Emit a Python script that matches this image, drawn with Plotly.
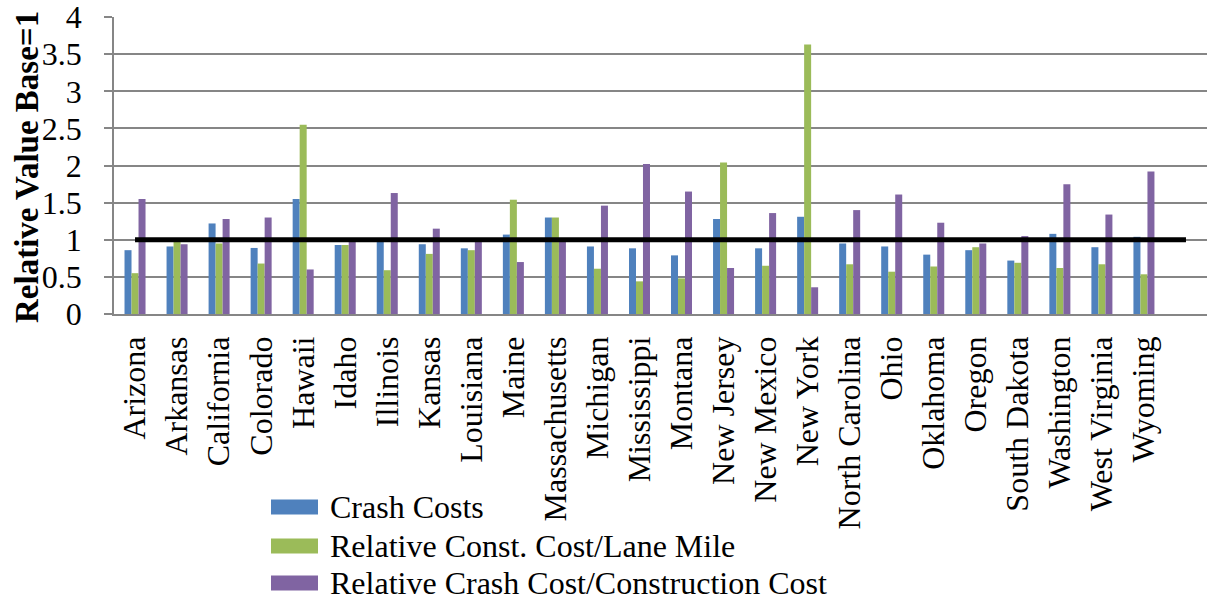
import plotly.graph_objects as go

states = ["Arizona", "Arkansas", "California", "Colorado", "Hawaii", "Idaho", "Illinois",
          "Kansas", "Louisiana", "Maine", "Massachusetts", "Michigan", "Mississippi",
          "Montana", "New Jersey", "New Mexico", "New York", "North Carolina", "Ohio",
          "Oklahoma", "Oregon", "South Dakota", "Washington", "West Virginia", "Wyoming"]
extra_category = " "

crash_costs = [0.86, 0.91, 1.22, 0.89, 1.55, 0.93, 0.98, 0.94, 0.885, 1.07, 1.30, 0.91, 0.885,
               0.79, 1.28, 0.885, 1.31, 0.95, 0.91, 0.80, 0.86, 0.72, 1.08, 0.90, 1.04]
const_cost = [0.55, 0.98, 0.95, 0.68, 2.55, 0.93, 0.59, 0.81, 0.86, 1.54, 1.30, 0.61, 0.44,
              0.48, 2.04, 0.65, 3.63, 0.67, 0.57, 0.64, 0.90, 0.69, 0.62, 0.67, 0.535]
crash_per_const = [1.55, 0.94, 1.28, 1.30, 0.60, 0.98, 1.63, 1.15, 0.98, 0.70, 0.98, 1.46, 2.02,
                   1.65, 0.62, 1.36, 0.36, 1.40, 1.61, 1.23, 0.95, 1.05, 1.75, 1.34, 1.92]
base_value = 1

series_names = ["Crash Costs", "Relative Const. Cost/Lane Mile",
                "Relative Crash Cost/Construction Cost"]
series_colors = ["#4F81BD", "#9BBB59", "#8064A2"]
y_ticks = [0, 0.5, 1, 1.5, 2, 2.5, 3, 3.5, 4]
y_tick_text = ["0", "0.5", "1", "1.5", "2", "2.5", "3", "3.5", "4"]
y_title = "Relative Value Base=1"

FONT = "Liberation Serif, Times New Roman, DejaVu Serif, serif"
FS = 32
W, H = 1212, 603
ML, MR, MT, MB = 114, 5, 17, 289

all_cats = states + [extra_category]

fig = go.Figure()
for name, vals, col in zip(series_names, [crash_costs, const_cost, crash_per_const], series_colors):
    fig.add_trace(go.Bar(x=states, y=vals, name=name, marker_color=col,
                         marker_line_width=0, showlegend=False))

fig.add_trace(go.Scatter(x=all_cats, y=[base_value] * len(all_cats), mode="lines",
                         line=dict(color="black", width=5), showlegend=False,
                         hoverinfo="skip"))

pw = W - ML - MR
ph = H - MT - MB
def px_to_paper_x(px):
    return (px - ML) / pw
def px_to_paper_y(py):
    return (H - MB - py) / ph

# legend drawn manually (wide colour boxes like the original)
legend_rows = [507, 546, 583]
for name, col, yc in zip(series_names, series_colors, legend_rows):
    fig.add_shape(type="rect", xref="paper", yref="paper",
                  x0=px_to_paper_x(271), x1=px_to_paper_x(318),
                  y0=px_to_paper_y(yc + 7.5), y1=px_to_paper_y(yc - 7.5),
                  fillcolor=col, line_width=0)
    fig.add_annotation(xref="paper", yref="paper", x=px_to_paper_x(328), y=px_to_paper_y(yc),
                       text=name, showarrow=False, xanchor="left", yanchor="middle",
                       font=dict(family=FONT, size=FS, color="black"))

# y-axis title
fig.add_annotation(xref="paper", yref="paper", x=px_to_paper_x(27), y=px_to_paper_y(167),
                   text="<b>" + y_title + "</b>", textangle=-90, showarrow=False,
                   xanchor="center", yanchor="middle",
                   font=dict(family=FONT, size=33, color="black"))

fig.update_layout(
    width=W, height=H,
    margin=dict(l=ML, r=MR, t=MT, b=MB, autoexpand=False),
    paper_bgcolor="white", plot_bgcolor="white",
    barmode="group", bargap=0.5, bargroupgap=0,
    font=dict(family=FONT, size=FS, color="black"),
    showlegend=False,
)
fig.update_xaxes(
    type="category", categoryorder="array", categoryarray=all_cats,
    tickangle=-90, tickfont=dict(family=FONT, size=FS, color="black"),
    showgrid=False, showline=True, linecolor="#868686", linewidth=1.5,
    ticks="", ticklabelstandoff=8, range=[-0.5, len(all_cats) - 0.5],
    automargin=False,
)
fig.update_yaxes(
    range=[0, 4.002], tickvals=y_ticks, ticktext=y_tick_text,
    tickfont=dict(family=FONT, size=FS, color="black"),
    showgrid=True, gridcolor="#868686", gridwidth=1.5,
    zeroline=False, showline=True, linecolor="#868686", linewidth=1.5,
    ticks="outside", ticklen=8, tickcolor="#868686", tickwidth=1.5,
    ticklabeloverflow="allow", ticklabelstandoff=16, automargin=False,
)

fig.write_html("out.html")
